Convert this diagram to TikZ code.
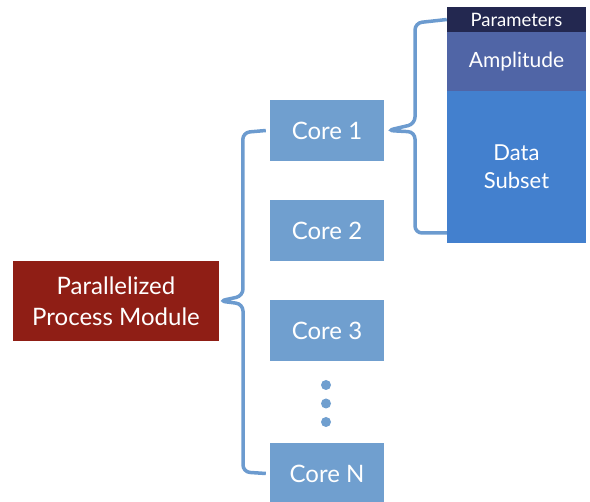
\documentclass[tikz,border=0pt]{standalone}
\usepackage{fontspec}
\setmainfont{Lato}
\definecolor{redbox}{HTML}{8F1E15}
\definecolor{corebox}{HTML}{709FCF}
\definecolor{bracecol}{HTML}{6C9BCF}
\definecolor{parcol}{HTML}{232850}
\definecolor{ampcol}{HTML}{5065A6}
\definecolor{datacol}{HTML}{4380CE}
\begin{document}
\begin{tikzpicture}[x=1pt,y=-1pt,
  corestyle/.style={fill=corebox,text=white,minimum width=114pt,minimum height=61pt,inner sep=0pt,font=\fontsize{24}{28}\selectfont},
  bracestyle/.style={draw=bracecol,line width=3.5pt,rounded corners=7pt},
  dotstyle/.style={circle,fill=corebox,minimum size=10pt,inner sep=0pt}]
\useasboundingbox (0,0) rectangle (590,502);
\node[fill=redbox,text=white,minimum width=206pt,minimum height=80pt,inner sep=0pt,align=center,font=\fontsize{24}{31}\selectfont] (pm) at (116,301) {Parallelized\\Process Module};
\node[corestyle] (c1) at (327,130.5) {Core 1};
\node[corestyle] (c2) at (327,230.5) {Core 2};
\node[corestyle] (c3) at (327,330.5) {Core 3};
\node[corestyle] (cn) at (327,473.5) {Core N};
\node[dotstyle] (d1) at (326,385) {};
\node[dotstyle] (d2) at (326,403.5) {};
\node[dotstyle] (d3) at (326,422) {};
\node[fill=parcol,text=white,minimum width=139pt,minimum height=25pt,inner sep=0pt,font=\fontsize{18.5}{20}\selectfont] (par) at (516.5,19.5) {Parameters};
\node[fill=ampcol,text=white,minimum width=139pt,minimum height=59pt,inner sep=0pt,font=\fontsize{21}{24}\selectfont] (amp) at (516.5,61.5) {Amplitude};
\node[fill=datacol,text=white,minimum width=139pt,minimum height=152.5pt,inner sep=0pt,align=center,font=\fontsize{22}{28}\selectfont] (data) at (516.5,167) {Data\\Subset};
% left brace
\draw[bracestyle] ([xshift=-4pt]c1.west) -- ++(-23,2) -- (243,296) -- (pm.east) -- (243,304) -- (243,472) -- ([xshift=-4pt]cn.west);
% right brace
\draw[bracestyle] (par.west) -- (415,23) -- (415,124) -- ([xshift=3pt]c1.east) -- (415,132) -- (415,233) -- (data.south west |- 0,233);
\end{tikzpicture}
\end{document}
